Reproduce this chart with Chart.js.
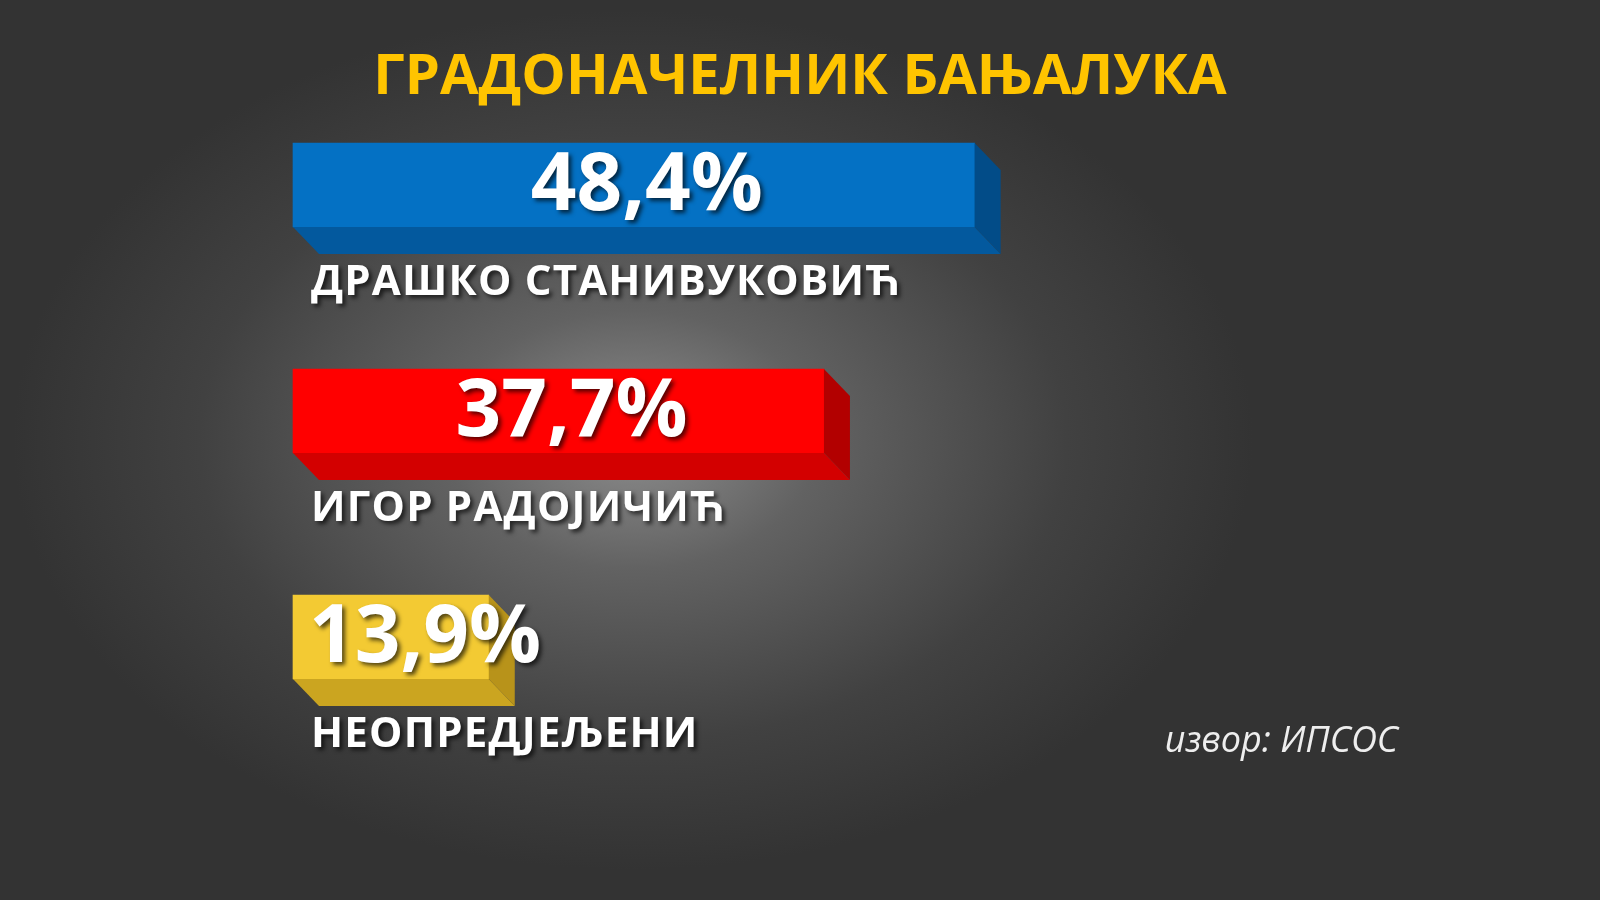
<!DOCTYPE html>
<html lang="sr">
<head>
  <meta charset="UTF-8">
  <title>Градоначелник Бањалука</title>
  <script src="https://cdn.jsdelivr.net/npm/chart.js@4.4.1/dist/chart.umd.min.js"></script>
  <style>
    html, body { margin: 0; padding: 0; }
    body {
      width: 1600px; height: 900px; overflow: hidden;
      background: #333 radial-gradient(ellipse 620px 430px at 633px 440px, #8e8e8e 0%, #626262 30%, #414141 70%, #333 100%);
    }
    canvas { position: absolute; left: 0; top: 0; }
  </style>
</head>
<body>
  <canvas id="poll" width="1600" height="900"></canvas>
  <script>
    const title = 'ГРАДОНАЧЕЛНИК БАЊАЛУКА';
    const candidates = ['ДРАШКО СТАНИВУКОВИЋ', 'ИГОР РАДОЈИЧИЋ', 'НЕОПРЕДЈЕЉЕНИ'];
    const shares = [48.4, 37.7, 13.9];
    const source = 'извор: ИПСОС';

    // front / bottom / side colours of each block
    const faces = [
      ['#0471c4', '#03599e', '#024c88'],
      ['#ff0000', '#d30000', '#b20000'],
      ['#f3ca33', '#cba520', '#b8931a']
    ];
    const depthX = 26, depthY = 27;

    const fmt = v => v.toFixed(1).replace('.', ',') + '%';

    const blocks = {
      id: 'blocks',
      afterDatasetsDraw(chart) {
        const ctx = chart.ctx;
        chart.getDatasetMeta(0).data.forEach((bar, i) => {
          const { x, y, base, height } = bar.getProps(['x', 'y', 'base', 'height'], true);
          const l = base, r = x, t = y - height / 2, b = y + height / 2;
          ctx.save();
          ctx.fillStyle = faces[i][1];
          ctx.beginPath();
          ctx.moveTo(l, b); ctx.lineTo(r, b); ctx.lineTo(r + depthX, b + depthY); ctx.lineTo(l + depthX, b + depthY);
          ctx.closePath(); ctx.fill();
          ctx.fillStyle = faces[i][2];
          ctx.beginPath();
          ctx.moveTo(r, t); ctx.lineTo(r + depthX, t + depthY); ctx.lineTo(r + depthX, b + depthY); ctx.lineTo(r, b);
          ctx.closePath(); ctx.fill();
          ctx.restore();
        });
      },
      afterDraw(chart) {
        const ctx = chart.ctx;
        ctx.save();
        ctx.fillStyle = '#ffffff';
        ctx.shadowColor = 'rgba(0,0,0,0.65)';
        ctx.shadowOffsetX = 3; ctx.shadowOffsetY = 3; ctx.shadowBlur = 4;
        chart.getDatasetMeta(0).data.forEach((bar, i) => {
          const { x, y, base, height } = bar.getProps(['x', 'y', 'base', 'height'], true);
          const label = fmt(shares[i]);
          ctx.font = 'bold 80px "Open Sans"';
          ctx.letterSpacing = '0px';
          ctx.textBaseline = 'middle';
          ctx.textAlign = 'center';
          const w = ctx.measureText(label).width;
          const cx = Math.max((base + x + depthX) / 2, base + 16 + w / 2);
          ctx.fillText(label, cx, y + 2);
          ctx.font = 'bold 42px "Open Sans"';
          ctx.letterSpacing = '1.2px';
          ctx.textAlign = 'left';
          ctx.fillText(candidates[i], base + 18, y + height / 2 + 56);
        });
        ctx.shadowColor = 'transparent';
        ctx.letterSpacing = '0px';
        ctx.fillStyle = '#eeeeee';
        ctx.font = 'italic 36px "Open Sans"';
        ctx.textAlign = 'right';
        ctx.textBaseline = 'middle';
        ctx.fillText(source, 1398, 742);
        ctx.restore();
      }
    };

    new Chart(document.getElementById('poll'), {
      type: 'bar',
      data: {
        labels: candidates,
        datasets: [{
          data: shares,
          backgroundColor: faces.map(f => f[0]),
          barThickness: 84,
          borderWidth: 0,
          clip: false
        }]
      },
      options: {
        indexAxis: 'y',
        responsive: false,
        animation: false,
        layout: { padding: { left: 293, right: 293, top: 0, bottom: 263 } },
        scales: {
          x: { display: false, min: 0, max: 72 },
          y: { display: false, offset: false }
        },
        plugins: {
          legend: { display: false },
          tooltip: { enabled: false },
          title: {
            display: true,
            text: title,
            color: '#ffc400',
            font: { family: 'Open Sans', weight: 'bold', size: 56, lineHeight: 1 },
            padding: { top: 50, bottom: 79 }
          }
        }
      },
      plugins: [blocks]
    });
  </script>
</body>
</html>
